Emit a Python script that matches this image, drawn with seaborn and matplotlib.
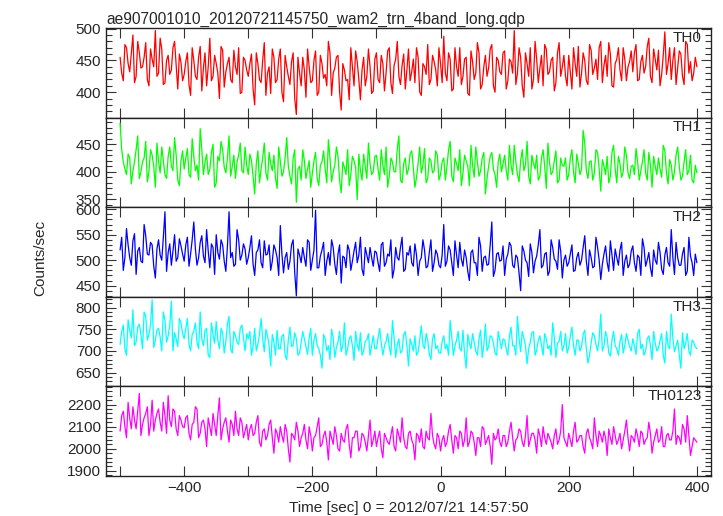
import numpy as np
import pandas as pd
import matplotlib
matplotlib.use("Agg")
import matplotlib.pyplot as plt
import seaborn as sns
from matplotlib.ticker import MultipleLocator, FuncFormatter

# --- data ---
# bins on the 5 s grid
time_sec = list(range(-500, 401, 5))
# bins in between (offset 2.5 s)
time_half = [t + 2.5 for t in range(-500, 400, 5)]

th0 = [455, 418, 470, 432, 490, 425, 462, 440, 478, 410, 452, 497, 430, 468, 415, 458, 435, 480, 405, 447,
       428, 462, 395, 450, 420, 472, 438, 410, 485, 425, 445, 390, 466, 432, 455, 415, 440, 470, 400, 450,
       425, 460, 380, 445, 415, 478, 430, 398, 455, 420, 468, 385, 440, 412, 462, 365, 430, 455, 392, 440,
       418, 465, 400, 445, 428, 480, 395, 438, 458, 372, 435, 420, 470, 410, 448, 388, 455, 425, 440, 402,
       462, 415, 445, 430, 470, 398, 452, 425, 442, 405, 468, 432, 415, 455, 395, 440, 475, 420, 448, 410,
       445, 488, 418, 452, 405, 440, 470, 425, 455, 395, 448, 430, 462, 412, 458, 438, 475, 400, 450, 428,
       465, 418, 448, 497, 430, 455, 392, 445, 470, 420, 452, 438, 410, 468, 432, 455, 415, 478, 440, 425,
       458, 405, 445, 472, 430, 450, 412, 466, 438, 420, 480, 442, 425, 460, 408, 452, 435, 470, 418, 448,
       432, 475, 420, 458, 440, 485, 415, 452, 466, 428, 495, 445, 420, 470, 438, 460, 412, 475, 448, 430,
       440]
th0_half = [430, 475, 445, 462, 415, 480, 438, 455, 420, 468, 440, 425, 485, 412, 450, 428, 470, 442, 460, 418,
            448, 412, 470, 425, 455, 402, 462, 440, 418, 458, 430, 472, 408, 445, 420, 466, 428, 398, 455, 435,
            445, 405, 462, 420, 450, 395, 440, 468, 415, 452, 400, 458, 425, 448, 390, 455, 410, 435, 468, 415,
            450, 395, 458, 422, 410, 462, 430, 455, 400, 445, 418, 388, 440, 465, 420, 435, 410, 468, 398, 452,
            420, 458, 402, 465, 415, 442, 480, 412, 460, 435, 418, 452, 470, 400, 445, 428, 412, 458, 435, 470,
            415, 430, 462, 402, 470, 425, 412, 452, 398, 465, 420, 478, 405, 440, 425, 468, 410, 455, 432, 462,
            405, 452, 430, 412, 470, 410, 462, 425, 405, 480, 415, 458, 475, 428, 450, 402, 462, 425, 458, 410,
            432, 470, 425, 408, 462, 418, 475, 428, 452, 470, 415, 458, 478, 410, 445, 470, 418, 452, 440, 465,
            462, 418, 448, 430, 472, 425, 468, 435, 410, 458, 428, 470, 450, 412, 465, 425, 480, 430, 418, 455]

th1 = [488, 418, 395, 425, 402, 440, 388, 418, 455, 400, 430, 372, 418, 445, 395, 428, 410, 462, 385, 420,
       405, 442, 390, 428, 412, 478, 395, 432, 405, 450, 380, 420, 440, 398, 465, 410, 388, 430, 402, 445,
       395, 420, 360, 438, 405, 452, 385, 415, 430, 370, 418, 400, 462, 392, 425, 345, 410, 440, 388, 420,
       398, 435, 375, 418, 405, 458, 382, 412, 428, 362, 408, 440, 395, 420, 350, 402, 432, 388, 415, 400,
       430, 385, 412, 445, 392, 418, 400, 465, 380, 425, 405, 438, 372, 415, 398, 442, 388, 420, 402, 430,
       395, 425, 410, 455, 382, 415, 440, 398, 420, 375, 412, 445, 392, 425, 360, 410, 435, 395, 418, 400,
       430, 385, 412, 448, 395, 420, 402, 455, 378, 415, 430, 392, 440, 370, 418, 400, 438, 385, 412, 425,
       395, 440, 380, 415, 405, 452, 388, 420, 398, 435, 365, 410, 428, 392, 448, 380, 415, 400, 430, 388,
       412, 442, 385, 418, 398, 435, 372, 410, 425, 390, 438, 378, 412, 400, 445, 385, 418, 395, 430, 380,
       398]
th1_half = [440, 405, 432, 378, 418, 465, 400, 425, 382, 440, 410, 452, 398, 420, 388, 445, 402, 430, 375, 438,
            425, 395, 460, 402, 385, 440, 418, 395, 435, 372, 428, 455, 408, 425, 392, 430, 418, 452, 398, 412,
            432, 392, 415, 380, 425, 398, 435, 402, 388, 445, 392, 425, 410, 378, 440, 405, 385, 420, 405, 372,
            420, 388, 412, 438, 380, 425, 400, 445, 385, 418, 395, 375, 428, 408, 432, 385, 410, 452, 395, 428,
            405, 440, 395, 372, 425, 400, 442, 385, 415, 395, 432, 408, 390, 445, 412, 380, 425, 398, 438, 385,
            418, 385, 440, 392, 425, 402, 375, 430, 410, 448, 390, 418, 402, 435, 388, 428, 405, 372, 432, 415,
            402, 448, 395, 418, 382, 440, 412, 392, 430, 405, 385, 425, 410, 452, 395, 420, 380, 425, 410, 385,
            425, 400, 432, 395, 475, 402, 418, 385, 440, 405, 422, 395, 380, 435, 405, 428, 390, 445, 398, 410,
            395, 418, 402, 440, 385, 412, 428, 395, 405, 448, 398, 422, 385, 430, 410, 392, 440, 402, 385, 412]

th2 = [520, 480, 562, 505, 538, 472, 525, 495, 548, 510, 530, 465, 540, 500, 595, 515, 490, 550, 505, 528,
       498, 545, 512, 575, 490, 535, 508, 560, 485, 525, 550, 502, 530, 478, 595, 515, 492, 540, 510, 522,
       505, 548, 470, 520, 495, 538, 512, 480, 530, 505, 568, 475, 515, 498, 540, 430, 510, 525, 488, 535,
       500, 598, 485, 520, 470, 515, 540, 492, 512, 455, 505, 530, 480, 518, 495, 545, 470, 510, 525, 488,
       515, 478, 535, 495, 508, 465, 525, 500, 545, 482, 510, 495, 532, 470, 505, 520, 488, 540, 495, 512,
       485, 570, 498, 520, 470, 510, 535, 488, 505, 460, 520, 495, 545, 478, 508, 492, 575, 480, 515, 500,
       470, 512, 528, 485, 505, 440, 518, 495, 532, 475, 508, 560, 490, 515, 478, 525, 498, 540, 465, 510,
       495, 530, 480, 515, 500, 548, 470, 505, 488, 525, 462, 512, 495, 538, 480, 505, 520, 470, 510, 492,
       528, 478, 505, 542, 488, 515, 468, 500, 535, 482, 510, 495, 560, 472, 505, 490, 525, 478, 508, 470,
       495]
th2_half = [545, 505, 530, 490, 552, 518, 498, 570, 512, 535, 488, 522, 510, 545, 478, 532, 518, 498, 542, 512,
            530, 488, 540, 522, 505, 548, 495, 518, 532, 472, 515, 540, 498, 528, 505, 488, 560, 500, 532, 492,
            525, 492, 515, 540, 485, 510, 530, 498, 520, 470, 512, 505, 482, 530, 475, 522, 495, 505, 540, 480,
            520, 485, 508, 535, 498, 490, 525, 472, 530, 508, 485, 520, 498, 535, 510, 482, 525, 495, 505, 518,
            495, 530, 488, 512, 540, 482, 505, 525, 478, 515, 528, 488, 510, 498, 540, 485, 515, 478, 520, 490,
            510, 488, 528, 495, 538, 485, 502, 520, 478, 515, 495, 470, 528, 505, 490, 530, 468, 512, 498, 528,
            502, 535, 490, 510, 475, 528, 500, 468, 515, 498, 530, 485, 512, 470, 540, 502, 482, 518, 500, 488,
            512, 478, 505, 490, 525, 498, 520, 485, 545, 500, 492, 528, 478, 510, 522, 490, 535, 498, 485, 518,
            495, 510, 470, 525, 500, 485, 520, 492, 515, 472, 525, 488, 505, 535, 490, 512, 470, 545, 495, 512]

th3 = [715, 760, 690, 748, 795, 720, 762, 705, 780, 738, 818, 725, 752, 700, 770, 735, 815, 742, 710, 765,
       728, 775, 700, 745, 720, 790, 712, 752, 685, 738, 768, 705, 742, 722, 780, 695, 735, 715, 760, 700,
       728, 690, 752, 715, 775, 698, 735, 665, 720, 748, 705, 738, 680, 755, 712, 728, 695, 745, 710, 730,
       690, 740, 705, 660, 728, 712, 750, 685, 720, 698, 765, 705, 735, 678, 715, 742, 700, 725, 690, 735,
       705, 752, 690, 722, 710, 770, 685, 728, 700, 745, 665, 715, 735, 698, 758, 705, 725, 680, 740, 712,
       695, 735, 715, 770, 690, 725, 705, 748, 660, 718, 740, 700, 728, 685, 762, 710, 732, 695, 745, 705,
       725, 690, 755, 712, 780, 698, 730, 670, 720, 745, 702, 735, 690, 728, 712, 765, 685, 722, 700, 740,
       708, 755, 690, 725, 710, 748, 672, 718, 735, 700, 785, 712, 730, 688, 745, 705, 722, 695, 740, 710,
       728, 692, 750, 715, 700, 735, 680, 718, 705, 740, 672, 712, 785, 698, 725, 660, 705, 740, 690, 720,
       705]
th3_half = [745, 705, 772, 730, 712, 755, 738, 790, 725, 760, 708, 748, 732, 790, 720, 758, 700, 728, 775, 740,
            752, 715, 738, 765, 705, 728, 748, 690, 765, 718, 725, 752, 695, 762, 705, 745, 720, 752, 730, 740,
            745, 712, 700, 738, 728, 750, 712, 738, 690, 705, 735, 690, 725, 710, 742, 690, 718, 728, 692, 752,
            725, 712, 690, 738, 700, 680, 730, 708, 745, 712, 690, 728, 712, 745, 700, 690, 722, 740, 712, 705,
            730, 718, 712, 740, 690, 730, 715, 695, 738, 712, 728, 700, 690, 725, 715, 740, 692, 728, 705, 695,
            722, 705, 690, 732, 712, 745, 700, 692, 738, 705, 720, 690, 748, 712, 700, 735, 718, 690, 725, 728,
            705, 735, 712, 690, 728, 745, 712, 705, 742, 690, 725, 712, 740, 705, 690, 730, 718, 745, 712, 695,
            735, 712, 725, 700, 738, 705, 690, 742, 715, 728, 700, 745, 695, 725, 712, 690, 738, 712, 725, 700,
            712, 740, 705, 690, 728, 712, 745, 700, 725, 690, 745, 705, 730, 712, 690, 742, 718, 700, 725, 710]

th0123 = [2080, 2170, 2050, 2140, 2190, 2090, 2250, 2110, 2160, 2060, 2220, 2130, 2180, 2080, 2150, 2240, 2100, 2170, 2060, 2130,
          2095, 2150, 2040, 2120, 2180, 2070, 2130, 2010, 2100, 2160, 2060, 2230, 2090, 2140, 2030, 2110, 2170, 2060, 2120, 2080,
          2040, 2110, 2070, 2150, 2010, 2090, 2060, 2130, 1980, 2070, 2100, 2030, 2080, 1940, 2060, 2120, 2010, 2070, 2040, 2100,
          1990, 2060, 2140, 2020, 2080, 1950, 2050, 2100, 2000, 2070, 2030, 2110, 1960, 2050, 2080, 2010, 2060, 1990, 2130, 2040,
          2010, 2080, 1960, 2050, 2020, 2100, 1990, 2060, 2140, 2010, 2070, 2040, 1950, 2060, 2090, 2000, 2050, 2160, 2020, 2070,
          1990, 2060, 2030, 2110, 1980, 2050, 2080, 2010, 2140, 2030, 2070, 1970, 2050, 2100, 2020, 2060, 1930, 2040, 2090, 2010,
          2060, 2030, 2120, 1990, 2050, 2080, 2010, 2150, 2040, 2070, 1980, 2060, 2100, 2020, 2050, 2000, 2090, 2040, 2200, 2030,
          2070, 2010, 2120, 2040, 2060, 1980, 2090, 2030, 2140, 2010, 2060, 2080, 1970, 2050, 2100, 2020, 2070, 2040, 2130, 1990,
          2050, 2090, 2010, 2070, 2040, 2120, 1980, 2060, 2030, 2100, 2010, 2070, 2040, 2180, 2060, 2020, 2090, 2150, 1970, 2050,
          2030]
th0123_half = [2150, 2100, 2210, 2090, 2130, 2170, 2060, 2140, 2190, 2110, 2080, 2160, 2120, 2210, 2070, 2130, 2180, 2090, 2150, 2100,
               2140, 2070, 2110, 2190, 2050, 2120, 2090, 2140, 2060, 2110, 2150, 2040, 2120, 2080, 2130, 2060, 2090, 2140, 2050, 2110,
               2090, 2060, 2120, 2030, 2080, 2040, 2110, 2050, 2090, 2030, 2060, 2110, 2000, 2070, 2040, 2080, 2050, 2110, 2000, 2060,
               2050, 2100, 2010, 2060, 2030, 2080, 2020, 2060, 1990, 2040, 2090, 2020, 2050, 2080, 1990, 2070, 2030, 2060, 2010, 2080,
               2050, 2000, 2070, 2030, 2060, 2010, 2090, 2030, 2050, 2000, 2080, 2020, 2070, 2030, 2010, 2080, 2040, 2060, 2000, 2050,
               2040, 2010, 2080, 2040, 2060, 2000, 2070, 2040, 2010, 2080, 2030, 2050, 2010, 2090, 2040, 2010, 2070, 2050, 2030, 2060,
               2010, 2080, 2050, 2040, 2090, 2030, 2060, 2010, 2070, 2040, 2090, 2010, 2050, 2070, 2030, 2060, 2020, 2080, 2050, 2010,
               2040, 2080, 2030, 2060, 2010, 2070, 2050, 2000, 2060, 2080, 2030, 2050, 2090, 2020, 2060, 2040, 2000, 2080, 2050, 2060,
               2030, 2060, 2080, 2020, 2050, 2070, 2030, 2090, 2040, 2010, 2060, 2040, 2080, 2020, 2050, 2110, 2030, 2060, 2010, 2040]

band_names = ["TH0", "TH1", "TH2", "TH3", "TH0123"]
band_values = [th0, th1, th2, th3, th0123]
band_half = [th0_half, th1_half, th2_half, th3_half, th0123_half]
band_colors = ["#ff0000", "#00ff00", "#0000ff", "#00ffff", "#ff00ff"]
band_ylims = [(360, 501), (336, 498), (428, 604), (618, 825), (1877, 2282)]
band_major = [50, 50, 50, 50, 100]

sns.set_style("ticks")
plt.rcParams["font.family"] = ["Liberation Sans", "DejaVu Sans"]
plt.rcParams["font.size"] = 11

fig, axes = plt.subplots(5, 1, figsize=(7.23, 5.16), dpi=100, sharex=True)
fig.subplots_adjust(left=0.1466, right=0.9834, top=0.9457, bottom=0.0775, hspace=0)

for ax, name, vals, half, col, ylim, maj in zip(axes, band_names, band_values, band_half,
                                               band_colors, band_ylims, band_major):
    df = pd.DataFrame({"t": time_sec + time_half, "rate": vals + half}).sort_values("t")
    sns.lineplot(data=df, x="t", y="rate", ax=ax, color=col, lw=0.9, estimator=None, sort=False)
    ax.set_ylim(*ylim)
    ax.set_xlim(-522, 422)
    ax.yaxis.set_major_locator(MultipleLocator(maj))
    ax.yaxis.set_minor_locator(MultipleLocator(maj / 5))
    ax.xaxis.set_major_locator(MultipleLocator(100))
    ax.tick_params(which="both", direction="in", top=True, right=True, labelsize=11, width=0.8, color="#333333")
    ax.tick_params(which="major", length=7)
    ax.tick_params(which="minor", length=4)
    for sp in ax.spines.values():
        sp.set_linewidth(1.0)
        sp.set_color("#222222")
    ax.set_xlabel("")
    ax.set_ylabel("")
    ax.text(0.985, 0.97, name, transform=ax.transAxes, ha="right", va="top", fontsize=11)

axes[-1].xaxis.set_major_formatter(FuncFormatter(lambda v, p: f"{int(v)}".replace("-", "\u2212") if int(v) % 200 == 0 else ""))
axes[-1].set_xlabel("Time [sec] 0 = 2012/07/21 14:57:50", fontsize=11, labelpad=4.5)
axes[0].set_title("ae907001010_20120721145750_wam2_trn_4band_long.qdp", loc="left", fontsize=11.2, pad=3)
fig.text(40 / 723, 1 - 258 / 516, "Counts/sec", rotation=90, ha="center", va="center", fontsize=11)

fig.savefig("out.png", dpi=100)
